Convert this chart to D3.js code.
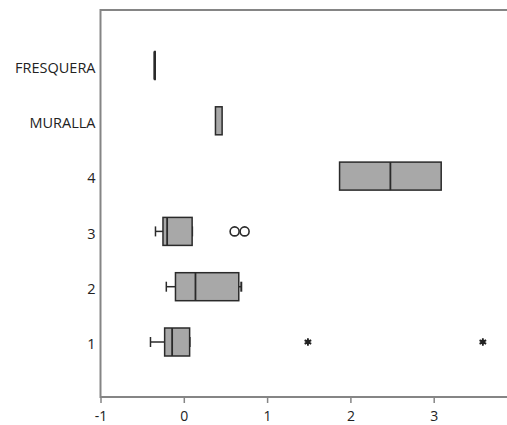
<!DOCTYPE html>
<html>
<head>
<meta charset="utf-8">
<script src="https://cdn.jsdelivr.net/npm/d3@7"></script>
<style>
html,body{margin:0;padding:0;background:#fff;}
svg{display:block;}
text{font-family:"Open Sans","Noto Sans",sans-serif;fill:#222;}
</style>
</head>
<body>
<svg id="chart" width="507" height="425"></svg>
<script>
const categories = ["FRESQUERA", "MURALLA", "4", "3", "2", "1"];
const lowWhisker = [-0.35, 0.38, 1.87, -0.34, -0.21, -0.40];
const q1Values   = [-0.35, 0.38, 1.87, -0.25, -0.10, -0.23];
const medians    = [-0.35, 0.42, 2.48, -0.20, 0.14, -0.14];
const q3Values   = [-0.35, 0.46, 3.09, 0.10, 0.66, 0.07];
const highWhisker= [-0.35, 0.46, 3.09, 0.10, 0.69, 0.07];
const outlierCats = ["3", "3"];
const outlierVals = [0.61, 0.73];
const extremeCats = ["1", "1"];
const extremeVals = [1.49, 3.59];
const xTicks = [-1, 0, 1, 2, 3];
const xTickLabels = ["-1", "0", "1", "2", "3"];

(function () {
const svg = d3.select("#chart");
const x = d3.scaleLinear().domain([-1, 4]).range([100.5, 517]);
const y = d3.scalePoint().domain(categories).range([65.5, 342]);
const frameTop = 10, frameBottom = 397, frameLeft = 100.5;
const boxH = 28, capH = 10;
const frameColor = "#858585";
const strokeColor = "#2a2a2a";
const fontFam = '"Open Sans","Noto Sans",sans-serif';

svg.append("path")
  .attr("d", `M${x.range()[1]},${frameTop}H${frameLeft}V${frameBottom}H${x.range()[1]}`)
  .attr("fill", "none").attr("stroke", frameColor).attr("stroke-width", 2);

const xAxis = d3.axisBottom(x).tickValues(xTicks).tickSize(6).tickPadding(8)
  .tickFormat((d, i) => xTickLabels[i]);
const gx = svg.append("g").attr("transform", `translate(0,${frameBottom})`).call(xAxis);
gx.select(".domain").remove();
gx.selectAll(".tick line").attr("stroke", frameColor).attr("stroke-width", 1.5);
gx.selectAll(".tick text").attr("font-size", 14).attr("fill", "#222").style("font-family", fontFam);

const yAxis = d3.axisLeft(y).tickSize(0).tickPadding(4);
const gy = svg.append("g").attr("transform", `translate(${frameLeft - 1},2)`).call(yAxis);
gy.select(".domain").remove();
gy.selectAll(".tick text").attr("font-size", 14.5).attr("fill", "#222").style("font-family", fontFam);

const data = categories.map((c, i) => ({
  c, lo: lowWhisker[i], q1: q1Values[i], med: medians[i], q3: q3Values[i], hi: highWhisker[i]
}));
const g = svg.append("g");
const box = g.selectAll("g.box").data(data).join("g").attr("class", "box");
box.append("line")
  .attr("x1", d => x(d.lo)).attr("x2", d => x(d.q1))
  .attr("y1", d => y(d.c)).attr("y2", d => y(d.c))
  .attr("stroke", strokeColor).attr("stroke-width", 1.5);
box.append("line")
  .attr("x1", d => x(d.q3)).attr("x2", d => x(d.hi))
  .attr("y1", d => y(d.c)).attr("y2", d => y(d.c))
  .attr("stroke", strokeColor).attr("stroke-width", 1.5);
box.filter(d => d.lo < d.q1).append("line")
  .attr("x1", d => x(d.lo)).attr("x2", d => x(d.lo))
  .attr("y1", d => y(d.c) - capH / 2).attr("y2", d => y(d.c) + capH / 2)
  .attr("stroke", strokeColor).attr("stroke-width", 1.5);
box.filter(d => d.hi > d.q3 || d.c === "1" || d.c === "3").append("line")
  .attr("x1", d => x(d.hi)).attr("x2", d => x(d.hi))
  .attr("y1", d => y(d.c) - capH / 2).attr("y2", d => y(d.c) + capH / 2)
  .attr("stroke", strokeColor).attr("stroke-width", 2);
box.append("rect")
  .attr("x", d => x(d.q1)).attr("width", d => Math.max(0.5, x(d.q3) - x(d.q1)))
  .attr("y", d => y(d.c) - boxH / 2).attr("height", boxH)
  .attr("fill", "#a8a8a8").attr("stroke", strokeColor).attr("stroke-width", 1.5);
box.filter(d => d.c !== "MURALLA").append("line")
  .attr("x1", d => x(d.med)).attr("x2", d => x(d.med))
  .attr("y1", d => y(d.c) - boxH / 2).attr("y2", d => y(d.c) + boxH / 2)
  .attr("stroke", strokeColor).attr("stroke-width", d => d.q1 === d.q3 ? 2.5 : 1.8);

g.selectAll("circle.out").data(outlierVals.map((v, i) => ({ v, c: outlierCats[i] })))
  .join("circle").attr("class", "out")
  .attr("cx", d => x(d.v)).attr("cy", d => y(d.c)).attr("r", 4.5)
  .attr("fill", "none").attr("stroke", strokeColor).attr("stroke-width", 1.6);

const ast = d3.symbol().type(d3.symbolAsterisk).size(40);
const ext = g.selectAll("g.ext").data(extremeVals.map((v, i) => ({ v, c: extremeCats[i] })))
  .join("g").attr("class", "ext")
  .attr("transform", d => `translate(${x(d.v)},${y(d.c)})`);
ext.append("path").attr("d", ast).attr("fill", "none").attr("stroke", "#222").attr("stroke-width", 1.8);
ext.append("circle").attr("r", 2.4).attr("fill", "#222");
})();
</script>
</body>
</html>
